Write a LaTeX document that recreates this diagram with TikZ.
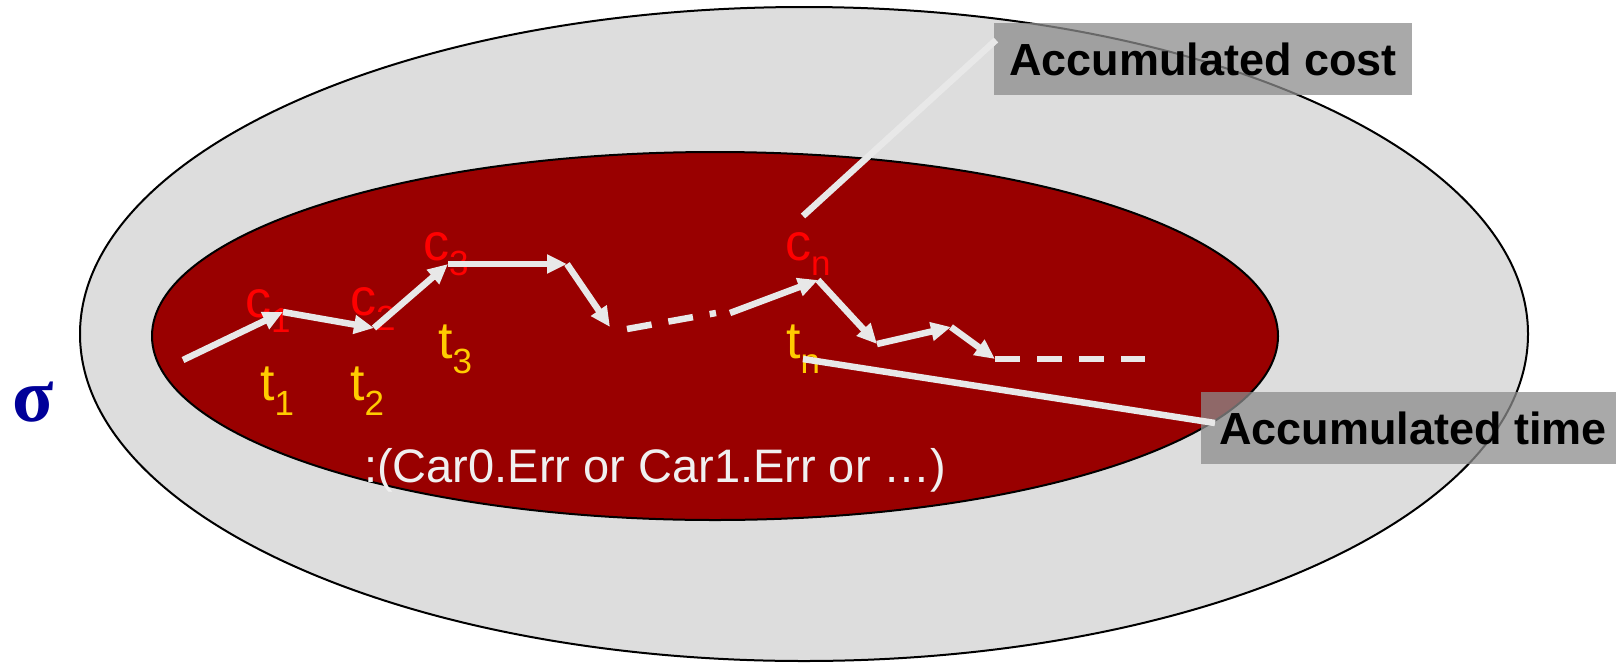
\documentclass[tikz,border=0pt]{standalone}
\usepackage{fontspec}
\setmainfont{Liberation Sans}
\newfontfamily\sigmafont{Liberation Serif}
\usetikzlibrary{arrows.meta}
\definecolor{outerfill}{HTML}{DDDDDD}
\definecolor{innerfill}{HTML}{990000}
\definecolor{wline}{HTML}{E8E8E8}
\definecolor{clab}{HTML}{FF0000}
\definecolor{tlab}{HTML}{FFCC00}
\definecolor{sigblue}{HTML}{000099}
\definecolor{boxgray}{HTML}{8C8C8C}
\newcommand{\sublab}[2]{#1\raisebox{-15pt}{\fontsize{35}{35}\selectfont #2}}
\begin{document}
\begin{tikzpicture}[x=1pt,y=-1pt,
  wl/.style={draw=wline,line width=6.5pt},
  arr/.style={wl,-{Triangle[length=20pt,width=18pt]}},
  dsh/.style={wl,dash pattern=on 25pt off 17pt},
  clabel/.style={anchor=base west,inner sep=0pt,text=clab,font=\fontsize{52}{52}\selectfont},
  tlabel/.style={anchor=base west,inner sep=0pt,text=tlab,font=\fontsize{52}{52}\selectfont},
  callout/.style={fill=boxgray,fill opacity=0.75,text opacity=1,text=black,
    font=\bfseries\fontsize{45}{45}\selectfont,minimum height=72pt,inner sep=0pt}
]
\useasboundingbox (0,0) rectangle (1616,662);
% ellipses
\draw[fill=outerfill,line width=2pt] (804,334) ellipse [x radius=724, y radius=327];
\draw[fill=innerfill,line width=2pt] (715,336) ellipse [x radius=563, y radius=184];
% sigma
\node[anchor=base,inner sep=0pt,text=sigblue,font=\sigmafont\bfseries\fontsize{76}{76}\selectfont] (sigma) at (33,421) {σ};
% condition text
\node[anchor=base west,inner sep=0pt,text=white!94!black,font=\fontsize{47}{47}\selectfont] (cond) at (364,482) {:(Car0.Err or Car1.Err or …)};
% labels
\node[clabel] (c1) at (245,317) {\sublab{c}{1}};
\node[clabel] (c2) at (350,315) {\sublab{c}{2}};
\node[clabel] (c3) at (423,260) {\sublab{c}{3}};
\node[clabel] (cn) at (785,260) {\sublab{c}{n}};
\node[tlabel] (t1) at (260,400) {\sublab{t}{1}};
\node[tlabel] (t2) at (350,400) {\sublab{t}{2}};
\node[tlabel] (t3) at (438,358) {\sublab{t}{3}};
\node[tlabel] (tn) at (786,358) {\sublab{t}{n}};
% path vertices
\coordinate (p0) at (183,360);
\coordinate (p1) at (283,312);
\coordinate (p2) at (374,328);
\coordinate (p3) at (448,264);
\coordinate (p4) at (567,264);
\coordinate (p5) at (610,327);
\coordinate (d0) at (627,329);
\coordinate (d1) at (716,313);
\coordinate (p6) at (730,313);
\coordinate (p7) at (818,280);
\coordinate (p8) at (877,344);
\coordinate (p9) at (951,327);
\coordinate (p10) at (995,359);
\coordinate (p11) at (1145,359);
\draw[arr] (p0) -- (p1);
\draw[arr] (p1) -- (p2);
\draw[arr] (p2) -- (p3);
\draw[arr] (p3) -- (p4);
\draw[arr] (p4) -- (p5);
\draw[dsh] (d0) -- (d1);
\draw[arr] (p6) -- (p7);
\draw[arr] (p7) -- (p8);
\draw[arr] (p8) -- (p9);
\draw[arr] (p9) -- (p10);
\draw[dsh] (p10) -- (p11);
% callouts
\node[callout,minimum width=418pt] (cost) at (1203,59) {Accumulated cost};
\node[callout,minimum width=424pt] (time) at (1413,428) {Accumulated time};
\coordinate (costfoot) at (803,216);
\coordinate (timefoot) at (803,359);
\coordinate (costend) at (996,40);
\coordinate (timeend) at (1215,423);
\draw[wl] (costfoot) -- (costend);
\draw[wl] (timefoot) -- (timeend);
\end{tikzpicture}
\end{document}
